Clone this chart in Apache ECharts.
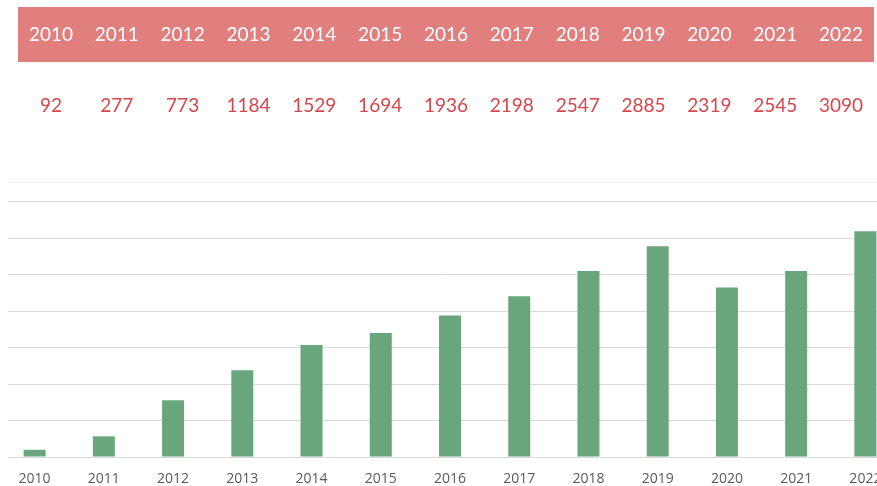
<!DOCTYPE html>
<html>
<head>
<meta charset="utf-8">
<script src="https://cdn.jsdelivr.net/npm/echarts@6/dist/echarts.min.js"></script>
<style>
html,body{margin:0;padding:0;background:#fff;overflow:hidden;width:877px;height:486px;}
#c{width:900px;height:486px;}
</style>
</head>
<body>
<div id="c"></div>
<script>
var years = ['2010','2011','2012','2013','2014','2015','2016','2017','2018','2019','2020','2021','2022'];
var values = [92, 277, 773, 1184, 1529, 1694, 1936, 2198, 2547, 2885, 2319, 2545, 3090];
var yTicks = [0, 500, 1000, 1500, 2000, 2500, 3000, 3500];

var chart = echarts.init(document.getElementById('c'), null, {renderer: 'canvas'});
var yMax = yTicks[yTicks.length - 1];
var yStep = yTicks[1] - yTicks[0];

// the canvas is 23px wider than the window: the plot runs past the right edge, as in the source
var option = {
  animation: false,
  grid: [
    // header table
    {left: 18, right: 26, top: 7, height: 55, show: true, backgroundColor: '#e17e7e', borderWidth: 0},
    // gridlines
    {left: 8, right: 23, top: 201.5, bottom: 29},
    // bars
    {left: 0, right: 0, top: 201.5, bottom: 29},
    // faint top border line
    {left: 8, right: 23, top: 182, height: 0}
  ],
  xAxis: [
    {type: 'category', gridIndex: 0, data: years, position: 'top', offset: -27.5,
     axisLine: {show: false}, axisTick: {show: false},
     axisLabel: {margin: 0, verticalAlign: 'middle', color: '#ffffff', fontSize: 19, fontFamily: 'Lato', interval: 0}},
    {type: 'category', gridIndex: 0, data: values.map(String), position: 'bottom',
     axisLine: {show: false}, axisTick: {show: false},
     axisLabel: {margin: 44, verticalAlign: 'middle', color: '#d9454a', fontSize: 19, fontFamily: 'Lato', interval: 0}},
    {type: 'category', gridIndex: 1, data: years, show: true,
     axisLine: {show: true, lineStyle: {color: '#d9d9d9', width: 1}}, axisTick: {show: false},
     axisLabel: {show: false}},
    {type: 'category', gridIndex: 2, data: years,
     axisLine: {show: false}, axisTick: {show: false},
     axisLabel: {margin: 22.5, verticalAlign: 'middle', color: '#595959', fontSize: 14, fontFamily: 'Open Sans', interval: 0}},
    {type: 'value', gridIndex: 3, show: true, min: 0, max: 1,
     axisLine: {show: true, lineStyle: {color: '#eeeeee', width: 1}}, axisTick: {show: false},
     axisLabel: {show: false}, splitLine: {show: false}}
  ],
  yAxis: [
    {type: 'value', gridIndex: 0, show: false},
    {type: 'value', gridIndex: 1, min: 0, max: yMax, interval: yStep,
     axisLine: {show: false}, axisTick: {show: false}, axisLabel: {show: false},
     splitLine: {show: true, lineStyle: {color: '#d9d9d9', width: 1}}},
    {type: 'value', gridIndex: 2, min: 0, max: yMax, interval: yStep, show: false,
     splitLine: {show: false}},
    {type: 'value', gridIndex: 3, show: false}
  ],
  series: [
    {type: 'bar', xAxisIndex: 3, yAxisIndex: 2, data: values, barWidth: 22,
     itemStyle: {color: '#6aa67b'}, silent: true}
  ]
};
chart.setOption(option);
</script>
</body>
</html>
